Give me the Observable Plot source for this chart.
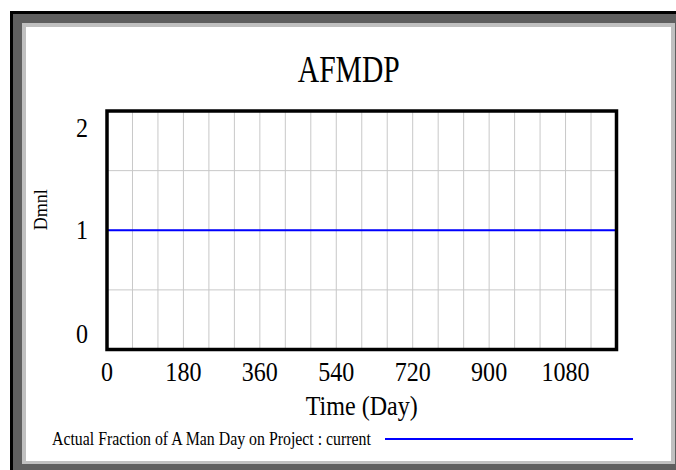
<!DOCTYPE html>
<html>
<head>
<meta charset="utf-8">
<script src="https://cdn.jsdelivr.net/npm/d3@7"></script>
<script src="https://cdn.jsdelivr.net/npm/@observablehq/plot@0.6"></script>
<style>
  html, body { margin: 0; padding: 0; background: #fff; }
  body { width: 676px; height: 470px; position: relative; overflow: hidden; font-family: "Liberation Serif", "Times New Roman", serif; }
  .outer { position: absolute; left: 10px; top: 11px; width: 666px; height: 459px; box-sizing: border-box; background: #5f5f5f; border-top: 3px solid #000; border-left: 3px solid #000; }
  .inner { position: absolute; left: 22px; top: 23px; width: 653px; height: 441px; background: #c0c0c0; }
  .panel { position: absolute; left: 26px; top: 27px; width: 645px; height: 434px; background: #fff; }
  #chart { position: absolute; left: 0; top: 0; }
  .title { position: absolute; left: 26px; width: 645px; top: 51px; text-align: center; font-size: 37px; line-height: 37px; color: #000; }
  .title span { display: inline-block; transform: scaleX(0.8); }
  .legend { position: absolute; left: 52px; top: 430px; font-size: 18px; line-height: 18px; white-space: nowrap; transform: scaleX(0.88); transform-origin: left center; }
  .legline { position: absolute; left: 385px; width: 248px; top: 438px; height: 2px; background: #0000ff; }
</style>
</head>
<body>
<div class="outer"></div>
<div class="inner"></div>
<div class="panel"></div>
<div class="title"><span id="title"></span></div>
<div id="chart"></div>
<div class="legend" id="legend"></div>
<div class="legline"></div>
<script>
// ---- data ----
const chartTitle = "AFMDP";
const xLabel = "Time (Day)";
const yLabel = "Dmnl";
const seriesName = "Actual Fraction of A Man Day on Project : current";
const days = [0, 1200];
const afmdp = [1, 1];
const xDomain = [0, 1200];
const yDomain = [0, 2];
const xTicks = [0, 180, 360, 540, 720, 900, 1080];
const yTicks = [0, 1, 2];
const xGrid = [60,120,180,240,300,360,420,480,540,600,660,720,780,840,900,960,1020,1080,1140];
const yGrid = [0.5, 1, 1.5];

document.getElementById("title").textContent = chartTitle;
document.getElementById("legend").textContent = seriesName;

const series = days.map((d, i) => ({t: d, v: afmdp[i]}));

const chart = Plot.plot({
  width: 676,
  height: 470,
  marginLeft: 106.5,
  marginRight: 60,
  marginTop: 110.5,
  marginBottom: 121,
  style: {background: "transparent", fontFamily: "Liberation Serif, Times New Roman, serif", color: "#000"},
  x: {domain: xDomain, axis: null},
  y: {domain: yDomain, axis: null},
  marks: [
    Plot.gridX(xGrid, {stroke: "#c8c8c8", strokeOpacity: 1, strokeWidth: 1}),
    Plot.gridY(yGrid, {stroke: "#c8c8c8", strokeOpacity: 1, strokeWidth: 1}),
    Plot.line(series, {x: "t", y: "v", stroke: "#0000ff", strokeWidth: 2}),
    Plot.frame({stroke: "#000", strokeWidth: 3.5}),
    Plot.text(xTicks, {x: d => d, text: d => String(d), frameAnchor: "bottom", lineAnchor: "top", dy: 12, fontSize: 28, fill: "#000"}),
    Plot.text(yTicks.filter(v => v > yDomain[0] && v < yDomain[1]), {y: d => d, text: d => String(d), frameAnchor: "left", textAnchor: "end", dx: -19, fontSize: 28, fill: "#000"}),
    Plot.text(yTicks.filter(v => v === yDomain[1]), {y: d => d, text: d => String(d), frameAnchor: "left", textAnchor: "end", dx: -19, dy: 17, fontSize: 28, fill: "#000"}),
    Plot.text(yTicks.filter(v => v === yDomain[0]), {y: d => d, text: d => String(d), frameAnchor: "left", textAnchor: "end", dx: -19, dy: -15, fontSize: 28, fill: "#000"}),
    Plot.text([xLabel], {frameAnchor: "bottom", lineAnchor: "top", dy: 46, fontSize: 28, fill: "#000"}),
    Plot.text([yLabel], {frameAnchor: "left", dx: -66, rotate: -90, fontSize: 18, fill: "#000"})
  ]
});
// condensed glyphs (horizontal squeeze around each text anchor)
chart.querySelectorAll("text").forEach(t => {
  if (t.textContent === yLabel) return;
  const tr = t.getAttribute("transform") || "";
  t.setAttribute("transform", (tr + " scale(0.86,1)").trim());
});
document.getElementById("chart").appendChild(chart);
</script>
</body>
</html>
